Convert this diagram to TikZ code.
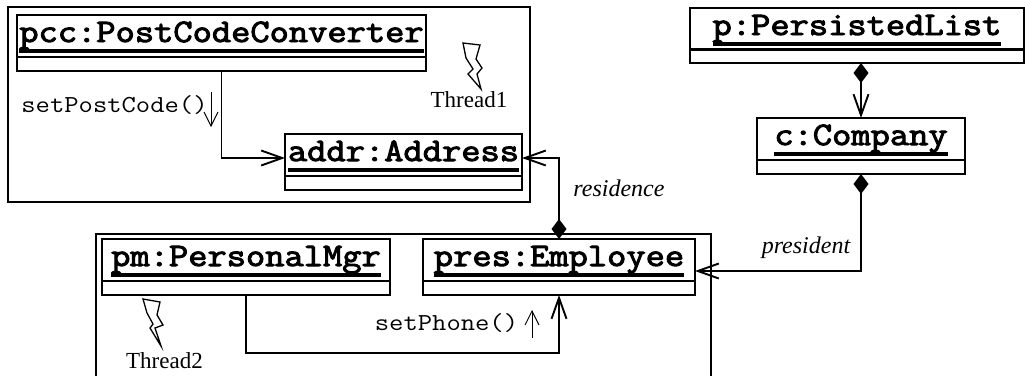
\documentclass[tikz,border=0pt]{standalone}
\usepackage{fontspec}
\usetikzlibrary{arrows.meta}
\setmainfont{Liberation Serif}
\newfontfamily\namefont[FakeStretch=1.14,FakeBold=3]{Latin Modern Mono}
\newfontfamily\msgfont[FakeStretch=1.14]{Latin Modern Mono}
\newcommand{\objname}[1]{\setbox0\hbox{#1}\rlap{\copy0}\raisebox{-11pt}{\rule{\wd0}{4pt}}}
\tikzset{
  objhead/.style={draw,line width=1.6pt,anchor=north,inner sep=0pt,outer sep=0pt,text height=27pt,text depth=15pt,font=\namefont\fontsize{32.8}{32.8}\selectfont},
  objslot/.style={draw,line width=1.6pt,anchor=north,inner sep=0pt,outer sep=0pt,minimum height=14pt},
  link/.style={line width=1.9pt,>={Straight Barb[length=21pt,width=15pt]}},
  whole/.style={{Diamond[length=20pt,width=15pt]}-{Straight Barb[length=21pt,width=15pt]}},
  msg/.style={font=\msgfont\fontsize{24.4}{24.4}\selectfont,anchor=center},
  msgarrow/.style={line width=.9pt,->,>={Straight Barb[length=14pt,width=14pt]}},
  role/.style={font=\itshape\fontsize{24}{24}\selectfont},
  thread/.style={font=\fontsize{23}{23}\selectfont},
  bolt/.style={line width=1.3pt,line join=miter}
}
\begin{document}
\begin{tikzpicture}[x=1pt,y=-1pt]
\useasboundingbox (0,0) rectangle (1025,376);
% thread boxes
\draw[line width=1.6pt] (8,7) rectangle (530,202);
\draw[line width=1.6pt] (96,376) |- (711,234) -- (711,376);
% objects
\node[objhead,minimum width=409pt] (pcc) at (221.5,15) {\objname{pcc:PostCodeConverter}};
\node[objslot,minimum width=409pt] (pccslot) at (221.5,57) {};
\node[objhead,minimum width=237pt] (addr) at (403.5,134) {\objname{addr:Address}};
\node[objslot,minimum width=237pt] (addrslot) at (403.5,176) {};
\node[objhead,minimum width=288pt] (pm) at (246,239) {\objname{pm:PersonalMgr}};
\node[objslot,minimum width=288pt] (pmslot) at (246,281) {};
\node[objhead,minimum width=272pt] (pres) at (559,239) {\objname{pres:Employee}};
\node[objslot,minimum width=272pt] (presslot) at (559,281) {};
\node[objhead,minimum width=334pt] (plist) at (857,8) {\objname{p:PersistedList}};
\node[objslot,minimum width=334pt] (plistslot) at (857,49) {};
\node[objhead,minimum width=208pt] (comp) at (861,118) {\objname{c:Company}};
\node[objslot,minimum width=208pt] (compslot) at (861,160) {};
% labels
\node[msg] (postcode) at (114.5,105) {setPostCode()};
\node[msg] (phone) at (446.5,323) {setPhone()};
\node[thread] (thread1) at (469,100) {Thread1};
\node[thread] (thread2) at (164.5,361) {Thread2};
\node[role] (residence) at (619,188) {residence};
\node[role] (president) at (806,248) {president};
\coordinate (phonebend) at (400,353);
\coordinate (postcodeA) at (211,92);
\coordinate (postcodeB) at (211,127);
\coordinate (phoneA) at (532,338);
\coordinate (phoneB) at (532,310);
% links
\draw[link,->] (pccslot.south) |- ([yshift=-3pt]addr.west);
\draw[link,->] (pmslot.south) |- (phonebend) -| (presslot.south);
\draw[link,whole] (pres.north) |- ([yshift=-3pt]addr.east);
\draw[link,whole] (plistslot.south -| comp.north) -- (comp.north);
\draw[link,whole] (compslot.south) |- ([yshift=-11pt]pres.east);
\draw[msgarrow] (postcodeA) -- (postcodeB);
\draw[msgarrow] (phoneA) -- (phoneB);
% lightning
\draw[bolt] (463,43) -- (480,45) -- (476,59) -- (482,68) -- (477,74) -- (481,89) -- (468,74) -- (473,69) -- (466,58) -- cycle;
\draw[bolt] (143,299) -- (160,302) -- (157,315) -- (163,325) -- (155,328) -- (161,346) -- (150,328) -- (153,324) -- (147,313) -- cycle;
\end{tikzpicture}
\end{document}
